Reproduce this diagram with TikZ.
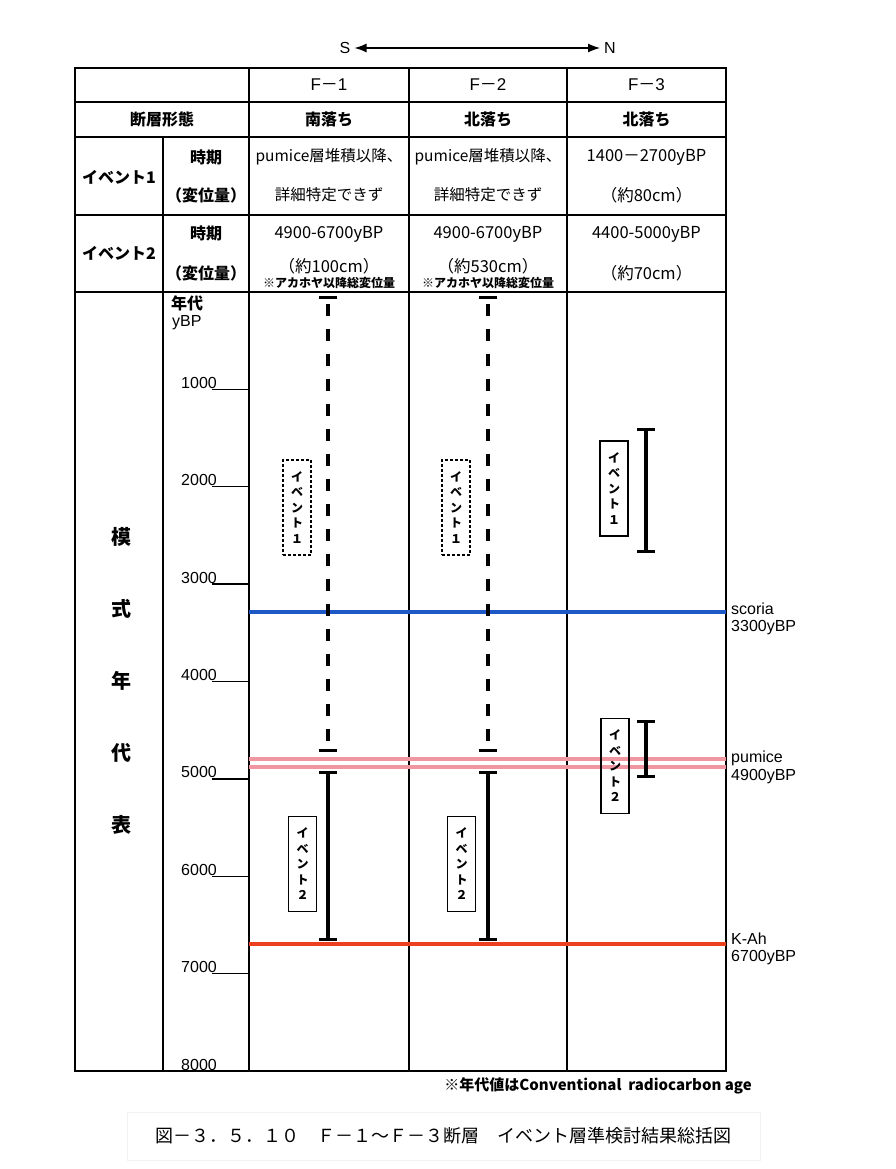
\documentclass[tikz,border=0pt]{standalone}
\usepackage{fontspec}
\setmainfont{Liberation Sans}
\newfontfamily\jp{Noto Sans CJK JP}
\definecolor{ScoriaBlue}{RGB}{30, 88, 196}
\definecolor{PumicePink}{RGB}{240, 150, 160}
\definecolor{KahRed}{RGB}{236, 64, 30}
\usetikzlibrary{arrows.meta}

\begin{document}
\begin{tikzpicture}[
        x=1pt, y=-1pt,
        grid/.style={line width=1.6pt},
        tick/.style={line width=1.4pt},
        txt/.style={font=\jp\fontsize{15.5pt}{18pt}\selectfont, inner sep=0pt},
        num/.style={font=\jp\fontsize{16.5pt}{19pt}\selectfont, inner sep=0pt},
        head/.style={font=\jp\bfseries\fontsize{16pt}{19pt}\selectfont, inner sep=0pt},
        lat/.style={font=\fontsize{16pt}{19pt}\selectfont, inner sep=0pt},
        note/.style={font=\jp\bfseries\fontsize{12pt}{14pt}\selectfont, inner sep=0pt},
        bigc/.style={font=\jp\bfseries\fontsize{20pt}{22pt}\selectfont, inner sep=0pt},
        evbox/.style={draw, line width=1.1pt, minimum width=28pt, minimum height=95pt, inner sep=0pt, align=center, font=\jp\bfseries\fontsize{12pt}{15.5pt}\selectfont},
        evboxd/.style={evbox, dash pattern=on 3pt off 2pt},
        ibar/.style={line width=3.4pt, {Bar[width=18pt]}-{Bar[width=18pt]}},
        ibard/.style={ibar, dash pattern=on 12pt off 13pt, dash phase=20pt},
        tephra/.style={line width=4.2pt},
        dirarrow/.style={{Latex[length=12pt,width=9pt]}-{Latex[length=12pt,width=9pt]}, line width=1.2pt}
      ]
        \useasboundingbox (0,0) rectangle (895,1169);

        % direction
        \node (s) [lat] at (345,48) {S};
        \node (n) [lat] at (610,48) {N};
        \draw [dirarrow] ([xshift=4pt]s.east) -- ([xshift=-4pt]n.west);

        % table frame
        \draw [grid] (75,68) rectangle (726,1071);
        \foreach \y in {102,137,215,292}
          \draw [grid] (75,\y) -- (726,\y);
        \foreach \x in {249,409,567}
          \draw [grid] (\x,68) -- (\x,1071);
        \draw [grid] (163,137) -- (163,1071);

        % header rows
        \node (f1) [lat, font=\fontsize{17pt}{19pt}\selectfont] at (329,85) {F{\jp －}1};
        \node (f2) [lat, font=\fontsize{17pt}{19pt}\selectfont] at (488,85) {F{\jp －}2};
        \node (f3) [lat, font=\fontsize{17pt}{19pt}\selectfont] at (646.5,85) {F{\jp －}3};
        \node (type) [head] at (162,119) {断層形態};
        \node (type1) [head] at (329,119) {南落ち};
        \node (type2) [head] at (488,119) {北落ち};
        \node (type3) [head] at (646.5,119) {北落ち};

        % event 1 row
        \node (ev1) [head] at (119,177) {イベント1};
        \node (ev1t) [head] at (206,157) {時期};
        \node (ev1d) [head] at (206,195) {（変位量）};
        \node (ev1a) [txt] at (329,157) {pumice層堆積以降、};
        \node (ev1b) [txt] at (329,195) {詳細特定できず};
        \node (ev1c) [txt] at (488,157) {pumice層堆積以降、};
        \node (ev1e) [txt] at (488,195) {詳細特定できず};
        \node (ev1f) [num] at (646.5,157) {1400－2700yBP};
        \node (ev1g) [num] at (646.5,195) {（約80cm）};

        % event 2 row
        \node (ev2) [head] at (119,253) {イベント2};
        \node (ev2t) [head] at (206,233) {時期};
        \node (ev2d) [head] at (206,273) {（変位量）};
        \node (ev2a) [num] at (329,234) {4900-6700yBP};
        \node (ev2b) [num] at (329,266) {（約100cm）};
        \node (ev2n1) [note] at (329,283) {※アカホヤ以降総変位量};
        \node (ev2c) [num] at (488,234) {4900-6700yBP};
        \node (ev2e) [num] at (488,266) {（約530cm）};
        \node (ev2n2) [note] at (488,283) {※アカホヤ以降総変位量};
        \node (ev2f) [num] at (646.5,234) {4400-5000yBP};
        \node (ev2g) [num] at (646.5,273) {（約70cm）};

        % time scale
        \node (nen) [head, anchor=west] at (171,303) {年代};
        \node (ybp) [lat, anchor=west] at (172,323) {yBP};
        \foreach \k in {1,...,8} {
          \draw [tick] (212,{292+97.375*\k}) -- (249,{292+97.375*\k});
          \node (t\k) [lat, anchor=base east] at (217,{292+97.375*\k-1}) {\k000};
        }
        \foreach \c [count=\i] in {模,式,年,代,表}
          \node (k\i) [bigc] at (121,{537+72*(\i-1)}) {\c};

        % tephra layers
        \draw [tephra, ScoriaBlue] (249,612) -- (726,612);
        \draw [tephra, PumicePink] (249,759) -- (726,759);
        \draw [tephra, PumicePink] (249,767) -- (726,767);
        \draw [tephra, KahRed] (249,944) -- (726,944);
        \node (sco) [lat, anchor=west] at (731,609) {scoria};
        \node (scoy) [lat, anchor=west] at (731,628) {3300yBP};
        \node (pum) [lat, anchor=west] at (731,758) {pumice};
        \node (pumy) [lat, anchor=west] at (731,777) {4900yBP};
        \node (kah) [lat, anchor=west] at (731,939) {K-Ah};
        \node (kahy) [lat, anchor=west] at (731,958) {6700yBP};

        % event ranges
        \draw [ibard] (328,296) -- (328,752);
        \draw [ibard] (488,296) -- (488,752);
        \draw [ibar] (328,771) -- (328,941);
        \draw [ibar] (488,771) -- (488,941);
        \draw [ibar] (646,428) -- (646,553);
        \draw [ibar] (646,720) -- (646,778);

        \node (b11) [evboxd] at (297,507.5) {イ\\ベ\\ン\\ト\\１};
        \node (b21) [evboxd] at (456,507.5) {イ\\ベ\\ン\\ト\\１};
        \node (b31) [evbox] at (614,488.5) {イ\\ベ\\ン\\ト\\１};
        \node (b12) [evbox] at (302.5,864) {イ\\ベ\\ン\\ト\\２};
        \node (b22) [evbox] at (461.5,864) {イ\\ベ\\ン\\ト\\２};
        \node (b32) [evbox] at (615,766) {イ\\ベ\\ン\\ト\\２};

        % notes
        \node (age) [font=\jp\bfseries\fontsize{15pt}{18pt}\selectfont, inner sep=0pt, anchor=east] at (752,1086) {※年代値はConventional\ \ radiocarbon age};
        \draw [gray!10, line width=0.6pt] (127,1112) rectangle (760,1160);
        \node (cap) [font=\jp\fontsize{18pt}{20pt}\selectfont, inner sep=0pt] at (443,1136) {図－３．５．１０　Ｆ－１～Ｆ－３断層　イベント層準検討結果総括図};
      \end{tikzpicture}
\end{document}
